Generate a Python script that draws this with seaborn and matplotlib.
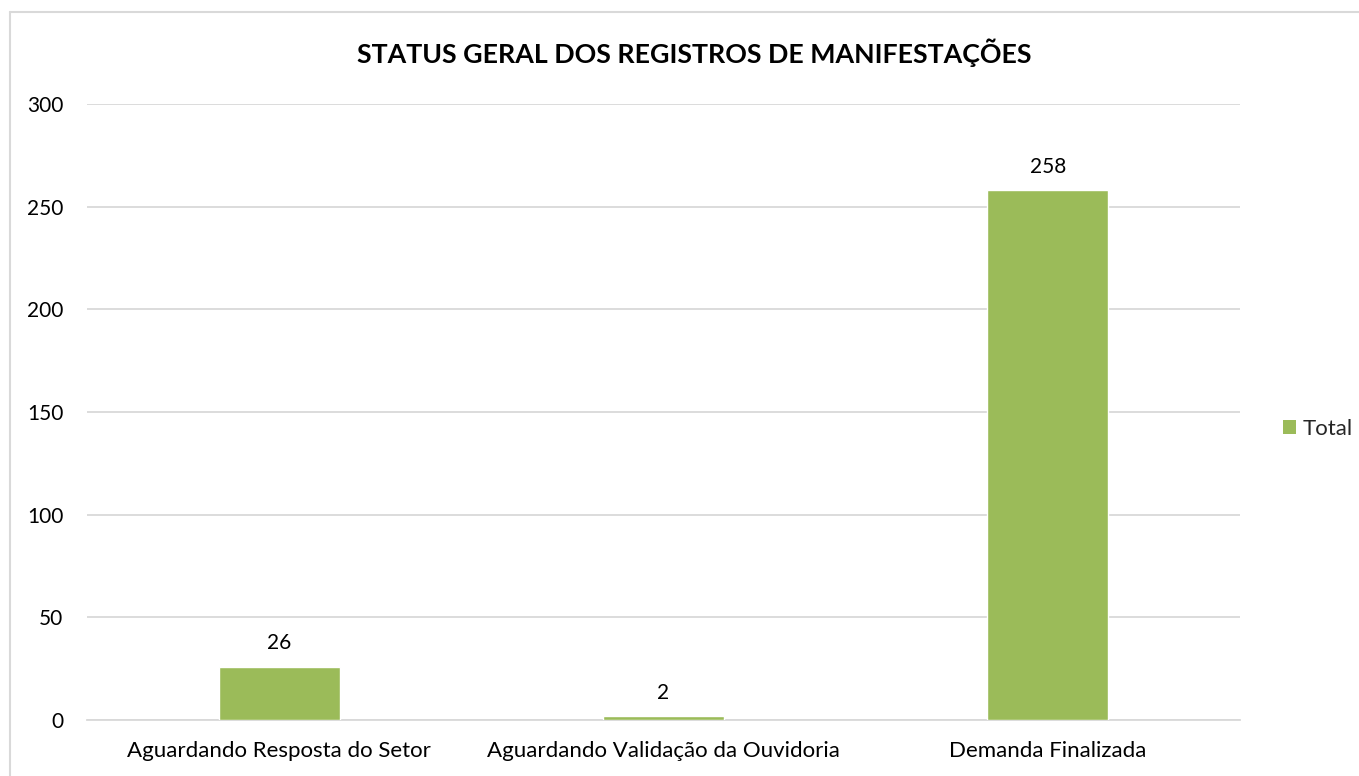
import matplotlib
matplotlib.use("Agg")
import matplotlib.pyplot as plt
import seaborn as sns
import pandas as pd
from matplotlib.lines import Line2D
from matplotlib.patches import Patch

categories = ["Aguardando Resposta do Setor", "Aguardando Validação da Ouvidoria", "Demanda Finalizada"]
values = [26, 2, 258]
yticks = [0, 50, 100, 150, 200, 250, 300]
title = "STATUS GERAL DOS REGISTROS DE MANIFESTAÇÕES"
series_name = "Total"

sns.set_theme(style="white")
plt.rcParams['font.family'] = ['Lato', 'DejaVu Sans']

bar_color = "#9BBB59"
grid_color = "#D9D9D9"
text_color = "#000000"

fig = plt.figure(figsize=(13.59, 7.76), dpi=100)
ax = fig.add_axes([87/1359, 1-720/776, (1240-87)/1359, (720-104)/776])

df = pd.DataFrame({"Status": categories, "Total": values})
sns.barplot(data=df, x="Status", y="Total", color=bar_color, width=0.315,
            saturation=1, ax=ax, zorder=3)

ax.set_ylim(0, 300)
ax.set_yticks(yticks)
ax.set_xlim(-0.5, 2.5)
ax.yaxis.grid(True, color=grid_color, linewidth=1.3, zorder=0)
ax.set_axisbelow(True)
for s in ["top", "right", "left"]:
    ax.spines[s].set_visible(False)
ax.spines["bottom"].set_color(grid_color)
ax.spines["bottom"].set_linewidth(1.3)
ax.set_xlabel("")
ax.set_ylabel("")
ax.tick_params(axis="both", length=0, colors=text_color)
ax.tick_params(axis="y", pad=17, labelsize=15)
ax.tick_params(axis="x", pad=15, labelsize=16)

for c in ax.containers:
    ax.bar_label(c, labels=[str(v) for v in values], padding=9.5, fontsize=15, color=text_color)

fig.text(694/1359, 1-63/776, title, ha="center", va="baseline",
         fontsize=19.3, fontweight="bold", color=text_color)

# legend
handles = [Patch(facecolor=bar_color, edgecolor="none", label=series_name)]
fig.legend(handles=handles, loc="center left", bbox_to_anchor=(1283/1359, 1-429/776),
           frameon=False, fontsize=16, handlelength=0.6, handleheight=0.6,
           handletextpad=0.3, borderpad=0, borderaxespad=0)

# outer chart frame
fig.add_artist(Line2D([10/1359, 1.0], [1-12/776, 1-12/776], color=grid_color,
                      linewidth=1.5, transform=fig.transFigure))
fig.add_artist(Line2D([10/1359, 10/1359], [1-12/776, 0.0], color=grid_color,
                      linewidth=1.5, transform=fig.transFigure))

fig.savefig("out.png", dpi=100)
